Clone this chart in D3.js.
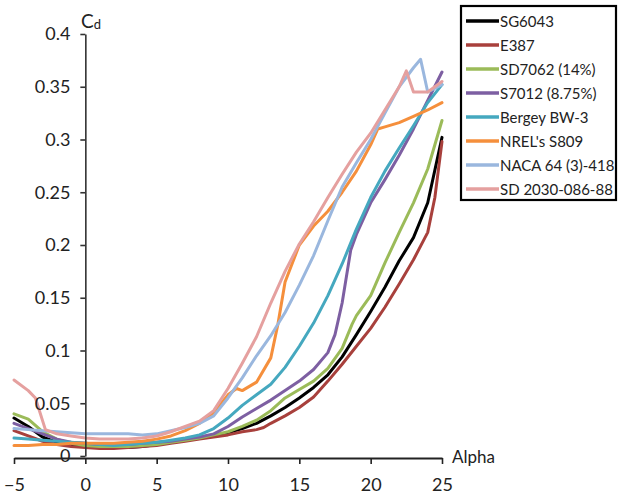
<!DOCTYPE html>
<html>
<head>
<meta charset="utf-8">
<script src="https://cdn.jsdelivr.net/npm/d3@7"></script>
<style>
  html, body { margin: 0; padding: 0; background: #fff; }
  svg { display: block; }
  text { font-family: Lato, "Open Sans", sans-serif; fill: #222; }
</style>
</head>
<body>
<svg id="chart" width="619" height="497"></svg>
<script>
// Drag coefficient Cd against angle of attack (alpha, degrees) for eight aerofoils.
const seriesNames = ["SG6043", "E387", "SD7062 (14%)", "S7012 (8.75%)", "Bergey BW-3",
                     "NREL's S809", "NACA 64 (3)-418", "SD 2030-086-88"];
const seriesColors = ["#000000", "#A8403C", "#9BBB59", "#7D5FA2", "#45A8BF",
                      "#F58F3C", "#9AB7DE", "#E5A09F"];

const sg6043 = [[-5,0.036],[-4,0.028],[-3,0.018],[-2,0.013],[-1,0.010],[0,0.009],[1,0.008],[2,0.008],[3,0.008],[4,0.009],[5,0.011],[6,0.013],[7,0.015],[8,0.017],[9,0.019],[10,0.022],[11,0.026],[12,0.031],[13,0.038],[14,0.046],[15,0.055],[16,0.065],[17,0.077],[18,0.094],[19,0.115],[20,0.137],[21,0.16],[22,0.185],[23,0.207],[24,0.24],[25,0.302]];
const e387 = [[-5,0.024],[-4,0.019],[-3,0.014],[-2,0.011],[-1,0.009],[0,0.008],[1,0.007],[2,0.007],[3,0.008],[4,0.009],[5,0.010],[6,0.012],[7,0.014],[8,0.016],[9,0.018],[10,0.020],[11,0.023],[12,0.025],[12.5,0.027],[13,0.031],[14,0.038],[15,0.046],[16,0.056],[17,0.071],[18,0.087],[19,0.104],[20,0.121],[21,0.141],[22,0.163],[23,0.186],[24,0.212],[24.5,0.245],[25,0.298]];
const sd7062 = [[-5,0.040],[-4,0.035],[-3,0.023],[-2,0.016],[-1,0.012],[0,0.010],[1,0.009],[2,0.009],[3,0.009],[4,0.010],[5,0.011],[6,0.013],[7,0.015],[8,0.017],[9,0.020],[10,0.023],[11,0.028],[12,0.034],[13,0.043],[14,0.055],[15,0.063],[16,0.071],[17,0.083],[18,0.102],[18.7,0.125],[19,0.133],[20,0.152],[21,0.183],[22,0.212],[23,0.24],[24,0.272],[25,0.318]];
const s7012 = [[-5,0.031],[-4,0.026],[-3,0.021],[-2,0.016],[-1,0.013],[0,0.012],[1,0.011],[2,0.011],[3,0.011],[4,0.012],[5,0.013],[6,0.014],[7,0.016],[8,0.018],[9,0.021],[10,0.028],[11,0.037],[12,0.045],[13,0.053],[14,0.062],[15,0.071],[16,0.082],[17,0.098],[17.5,0.115],[18,0.145],[18.6,0.195],[19,0.21],[20,0.24],[21,0.262],[22,0.285],[23,0.31],[24,0.337],[25,0.364]];
const bergeyBW3 = [[-5,0.017],[-4,0.016],[-3,0.015],[-2,0.014],[-1,0.013],[0,0.012],[1,0.011],[2,0.010],[3,0.011],[4,0.012],[5,0.013],[6,0.015],[7,0.017],[8,0.020],[9,0.026],[10,0.036],[11,0.048],[12,0.058],[13,0.068],[14,0.084],[15,0.104],[16,0.126],[17,0.152],[18,0.182],[19,0.215],[20,0.245],[21,0.27],[22,0.292],[23,0.313],[24,0.335],[25,0.352]];
const nrelS809 = [[-5,0.010],[-4,0.010],[-3,0.011],[-2,0.011],[-1,0.012],[0,0.012],[1,0.012],[2,0.012],[3,0.013],[4,0.014],[5,0.016],[6,0.019],[7,0.024],[8,0.031],[9,0.041],[10,0.058],[10.6,0.064],[11,0.062],[12,0.07],[13,0.093],[13.5,0.125],[14,0.165],[15,0.2],[16,0.218],[17,0.232],[18,0.25],[19,0.27],[20,0.295],[20.5,0.31],[21,0.312],[22,0.316],[23,0.322],[24,0.328],[25,0.335]];
const naca64 = [[-5,0.026],[-4,0.025],[-3,0.024],[-2,0.023],[-1,0.022],[0,0.021],[1,0.021],[2,0.021],[3,0.021],[4,0.020],[5,0.021],[6,0.024],[7,0.027],[8,0.031],[9,0.038],[10,0.055],[11,0.074],[12,0.095],[13,0.114],[14,0.136],[15,0.162],[16,0.19],[17,0.223],[18,0.255],[19,0.278],[20,0.30],[21,0.325],[22,0.35],[23,0.368],[23.5,0.376],[24,0.345],[25,0.352]];
const sd2030 = [[-5,0.072],[-4,0.062],[-3.5,0.055],[-2.8,0.025],[-2,0.021],[-1,0.019],[0,0.017],[1,0.016],[2,0.016],[3,0.016],[4,0.017],[5,0.019],[6,0.023],[7,0.028],[8,0.033],[9,0.043],[10,0.064],[11,0.088],[12,0.113],[13,0.145],[14,0.175],[15,0.201],[16,0.222],[17,0.245],[18,0.267],[19,0.288],[20,0.306],[21,0.328],[22,0.35],[22.5,0.365],[23,0.345],[24,0.345],[25,0.355]];

const seriesValues = [sg6043, e387, sd7062, s7012, bergeyBW3, nrelS809, naca64, sd2030];

const xTicks = [-5, 0, 5, 10, 15, 20, 25];
const yTicks = [0, 0.05, 0.1, 0.15, 0.2, 0.25, 0.3, 0.35, 0.4];
const yTickLabels = ["0", "0.05", "0.1", "0.15", "0.2", "0.25", "0.3", "0.35", "0.4"];

const svg = d3.select("#chart");

const x = d3.scaleLinear().domain([-5, 25]).range([14, 442]);
const y = d3.scaleLinear().domain([0, 0.4]).range([456, 34]);

// Lines, drawn in series order so the last one sits on top
const line = d3.line().x(d => x(d[0])).y(d => y(d[1]));
const plot = svg.append("g");
seriesValues.forEach((vals, i) => {
  plot.append("path")
    .datum(vals)
    .attr("d", line)
    .attr("fill", "none")
    .attr("stroke", seriesColors[i])
    .attr("stroke-width", 3)
    .attr("stroke-linejoin", "round")
    .attr("stroke-linecap", "round");
});

// Y axis (crosses at alpha = 0)
const yAxis = svg.append("g")
  .attr("transform", `translate(${x(0)},0)`)
  .call(d3.axisLeft(y).tickValues(yTicks)
    .tickFormat((d, i) => yTickLabels[i]).tickSizeInner(5).tickSizeOuter(0).tickPadding(10));
yAxis.select(".domain").attr("stroke", "#333").attr("stroke-width", 1.6);
yAxis.selectAll(".tick line").attr("stroke", "#333").attr("stroke-width", 1.6);
yAxis.selectAll(".tick text").attr("font-size", 18).attr("font-family", "Lato, sans-serif").attr("fill", "#222");

// X axis (crosses at Cd = 0)
const xAxis = svg.append("g")
  .attr("transform", `translate(0,${y(0) + 2})`)
  .call(d3.axisBottom(x).tickValues(xTicks).tickSizeInner(6).tickSizeOuter(0).tickPadding(14));
xAxis.select(".domain").attr("stroke", "#222").attr("stroke-width", 1.8);
xAxis.selectAll(".tick line").attr("stroke", "#222").attr("stroke-width", 1.6);
xAxis.selectAll(".tick text").attr("font-size", 18).attr("font-family", "Lato, sans-serif").attr("fill", "#222");

// Axis titles
const cd = svg.append("text").attr("x", 81).attr("y", 28).attr("font-size", 19);
cd.append("tspan").text("C");
cd.append("tspan").attr("font-size", 13).attr("dy", 1).text("d");
svg.append("text").attr("x", 452).attr("y", 463).attr("font-size", 17).text("Alpha");

// Legend
const legend = svg.append("g");
legend.append("rect")
  .attr("x", 461).attr("y", 6).attr("width", 155).attr("height", 194)
  .attr("fill", "#fff").attr("stroke", "#000").attr("stroke-width", 2.2);
seriesNames.forEach((name, i) => {
  const ly = 21 + i * 24;
  legend.append("line")
    .attr("x1", 466).attr("x2", 499).attr("y1", ly).attr("y2", ly)
    .attr("stroke", seriesColors[i]).attr("stroke-width", 3.5);
  legend.append("text")
    .attr("x", 500).attr("y", ly + 5.5).attr("font-size", 15).text(name);
});
</script>
</body>
</html>
